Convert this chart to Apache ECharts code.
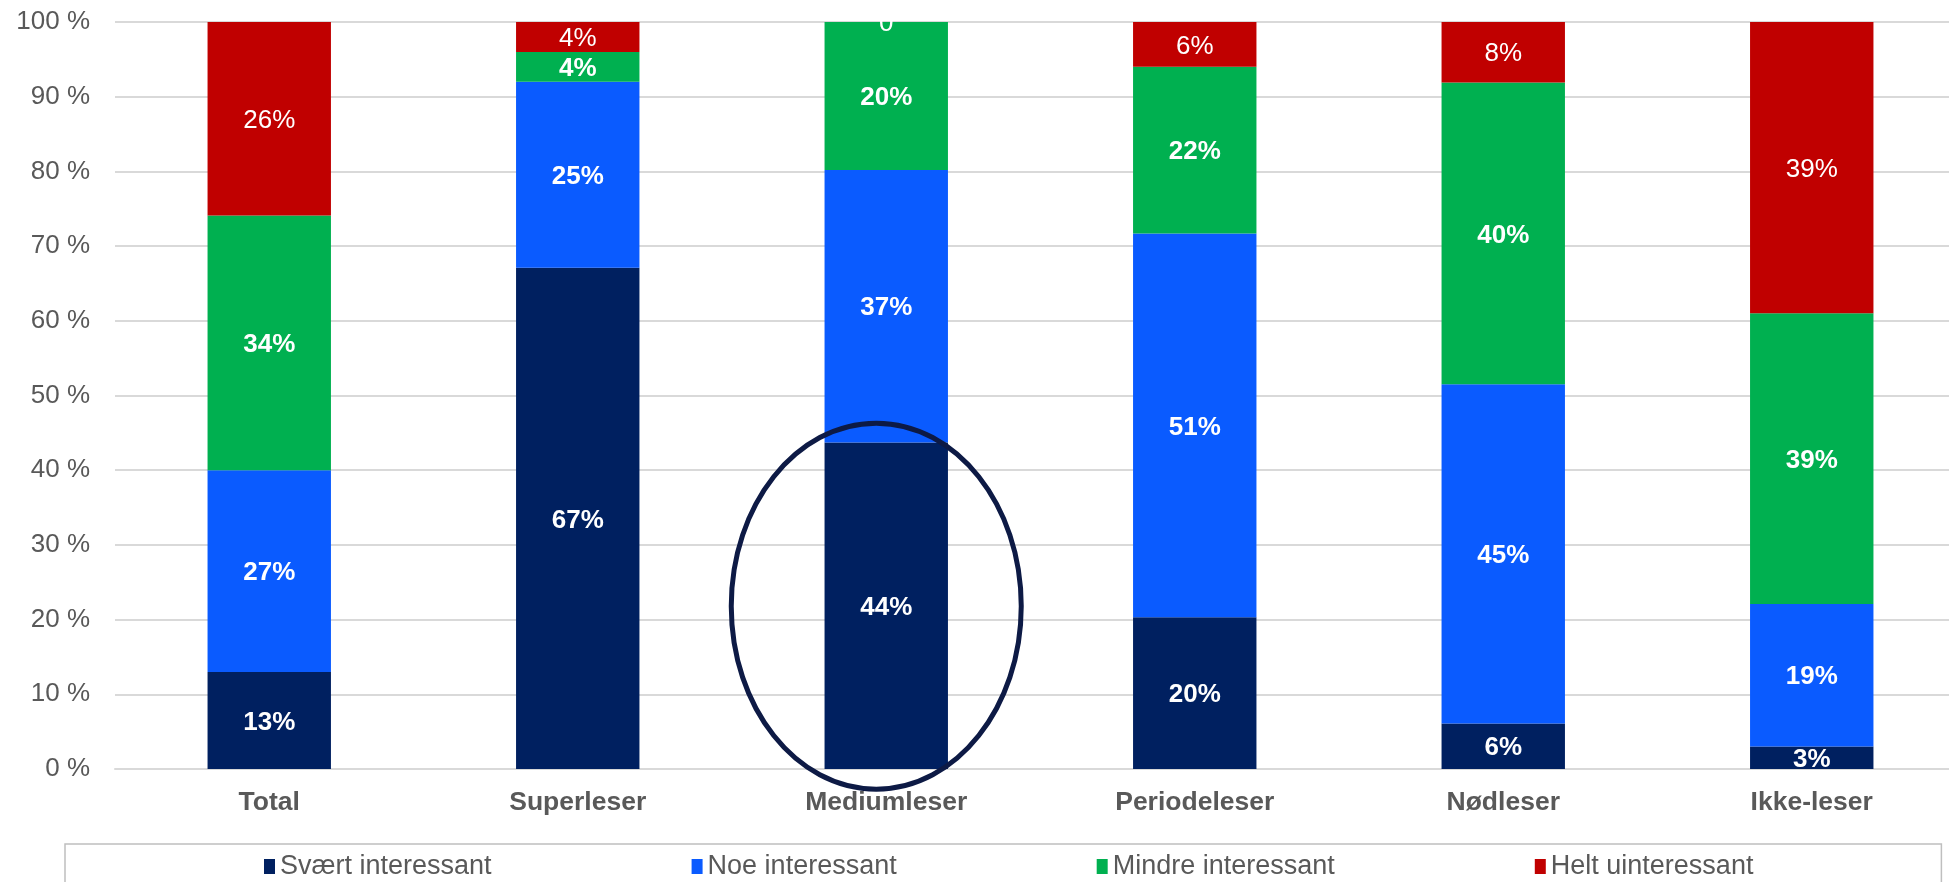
<!DOCTYPE html>
<html>
	<head>
		<meta charset="utf-8" />
		<title></title>
		<script type="text/javascript" src="https://cdn.jsdelivr.net/npm/echarts@6/dist/echarts.min.js"></script>
		<style>
			html,
			body {
				margin: 0;
				width: 100%;
				height: 100%;
				overflow: hidden;
				background: #fff;
			}
		</style>
	</head>
	<body>
		<!-- plot runs a little past the right edge of the window, as in the original -->
		<div id="container" style="width: 1966px;height: 882px"></div>

		<script>
			var categories = ['Total', 'Superleser', 'Mediumleser', 'Periodeleser', 'Nødleser', 'Ikke-leser'];
			var seriesNames = ['Svært interessant', 'Noe interessant', 'Mindre interessant', 'Helt uinteressant'];
			var svaert = [13.0, 67.1, 43.7, 20.3, 6.1, 3.0];
			var noe = [27.0, 24.9, 36.5, 51.4, 45.4, 19.1];
			var mindre = [34.1, 4.0, 19.8, 22.3, 40.4, 38.9];
			var helt = [25.9, 4.0, 0, 6.0, 8.1, 39.0];
			var yTicks = [0, 10, 20, 30, 40, 50, 60, 70, 80, 90, 100];
			var colors = ['#002060', '#0A5BFF', '#00B050', '#C00000'];

			var font = '"Liberation Sans", Arial, sans-serif';
			var dom = document.getElementById('container');
			var myChart = echarts.init(dom);

			function makeSeries(idx, values, bold) {
				return {
					name: seriesNames[idx],
					type: 'bar',
					stack: 'total',
					barWidth: '40%',
					data: values,
					itemStyle: { color: colors[idx] },
					label: {
						show: true,
						position: 'inside',
						offset: [0, 2],
						color: '#fff',
						fontFamily: font,
						fontSize: 26,
						fontWeight: bold ? 'bold' : 'normal',
						formatter: function(p) {
							if(p.value === 0) return '0';
							return Math.round(p.value) + '%';
						}
					}
				};
			}

			var option = {
				animation: false,
				color: colors,
				grid: {
					left: 115,
					right: 0,
					top: 22,
					bottom: 113
				},
				xAxis: {
					type: 'category',
					data: categories,
					axisTick: { show: false },
					axisLine: { lineStyle: { color: '#D9D9D9', width: 2 } },
					axisLabel: {
						color: '#595959',
						fontFamily: font,
						fontSize: 26.5,
						fontWeight: 'bold',
						margin: 20
					}
				},
				yAxis: {
					type: 'value',
					min: yTicks[0],
					max: yTicks[yTicks.length - 1],
					interval: yTicks[1] - yTicks[0],
					axisLine: { show: false },
					axisTick: { show: false },
					splitLine: { lineStyle: { color: '#D9D9D9', width: 2 } },
					axisLabel: {
						color: '#595959',
						fontFamily: font,
						fontSize: 26,
						margin: 25,
						formatter: '{value} %'
					}
				},
				legend: {
					left: 65,
					top: 844,
					padding: [9, 188, 40, 199],
					borderColor: '#BFBFBF',
					borderWidth: 1.5,
					itemGap: 200,
					itemWidth: 11,
					itemHeight: 15,
					icon: 'rect',
					textStyle: {
						color: '#595959',
						fontFamily: font,
						fontSize: 27
					},
					data: seriesNames
				},
				series: [
					makeSeries(0, svaert, true),
					makeSeries(1, noe, true),
					makeSeries(2, mindre, true),
					makeSeries(3, helt, false)
				]
			};

			myChart.setOption(option);

			// ring round the Mediumleser bar, plus the clipped top of its "0" label
			var c = myChart.convertToPixel({ xAxisIndex: 0, yAxisIndex: 0 }, ['Mediumleser', 21.8]);
			var top100 = myChart.convertToPixel({ yAxisIndex: 0 }, 100);
			myChart.setOption({
				graphic: [{
					type: 'rect',
					z: 100,
					shape: { x: c[0] - 70, y: 0, width: 140, height: top100 - 1 },
					style: { fill: '#fff' }
				}, {
					type: 'ellipse',
					z: 100,
					shape: { cx: c[0] - 10, cy: c[1], rx: 145, ry: 183 },
					style: { fill: null, stroke: '#0D1A45', lineWidth: 5 }
				}]
			});
		</script>
	</body>
</html>
